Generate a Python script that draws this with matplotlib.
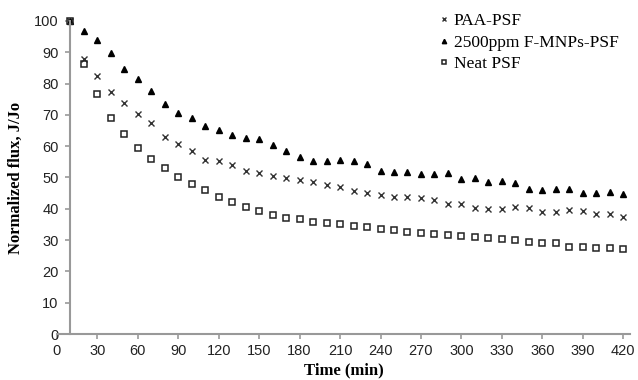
import numpy as np
import matplotlib
matplotlib.use("Agg")
import matplotlib.pyplot as plt

# Time points (min)
time = list(range(10, 430, 10))

# Normalized flux values
paa_psf = [100, 87.8, 82.5, 77.4, 73.9, 70.2, 67.3, 63.0, 60.7, 58.6,
           55.6, 55.3, 54.0, 52.1, 51.3, 50.6, 49.9, 49.2, 48.7, 47.6,
           46.9, 45.7, 44.9, 44.4, 43.7, 43.7, 43.3, 42.8, 41.5, 41.5,
           40.2, 40.0, 40.0, 40.7, 40.2, 39.1, 38.9, 39.6, 39.4, 38.3,
           38.3, 37.5]
fmnps_psf = [100, 96.9, 93.9, 89.9, 84.7, 81.5, 77.6, 73.4, 70.5, 69.1,
             66.5, 65.0, 63.6, 62.5, 62.2, 60.4, 58.6, 56.6, 55.3, 55.3,
             55.6, 55.1, 54.2, 52.2, 51.9, 51.9, 51.1, 51.0, 51.3, 49.4,
             49.7, 48.4, 49.0, 48.1, 46.3, 46.0, 46.4, 46.4, 45.1, 45.1,
             45.4, 44.7]
neat_psf = [100, 86.2, 76.6, 69.1, 63.9, 59.3, 55.8, 52.9, 50.1, 47.9,
            46.0, 43.9, 42.3, 40.5, 39.3, 38.0, 37.2, 36.6, 35.9, 35.4,
            35.0, 34.5, 34.1, 33.5, 33.2, 32.7, 32.2, 31.9, 31.6, 31.3,
            30.9, 30.6, 30.2, 30.0, 29.5, 29.0, 29.0, 27.9, 27.9, 27.6,
            27.4, 27.2]

x_ticks = list(range(0, 421, 30))
y_ticks = list(range(0, 101, 10))

fig = plt.figure(figsize=(6.38, 3.8), dpi=100)
ax = fig.add_axes([0.0893, 0.121, 0.898, 0.824])

ax.plot(time, paa_psf, linestyle='none', marker='x', color='#333333',
        markersize=4.5, markeredgewidth=1.0, label='PAA-PSF', clip_on=False)
ax.plot(time, fmnps_psf, linestyle='none', marker='^', color='black',
        markersize=4.5, label='2500ppm F-MNPs-PSF', clip_on=False)
ax.plot(time, neat_psf, linestyle='none', marker='s', markerfacecolor='none',
        markeredgecolor='#222222', markersize=4.3, markeredgewidth=1.1,
        label='Neat PSF', clip_on=False)

ax.set_xlim(0, 425)
ax.set_ylim(0, 100)
ax.set_xticks(x_ticks)
ax.set_yticks(y_ticks)

for side in ['top', 'right']:
    ax.spines[side].set_visible(False)
ax.spines['left'].set_position(('data', 10))
for side in ['left', 'bottom']:
    ax.spines[side].set_color('#999999')
    ax.spines[side].set_linewidth(1.5)

ax.tick_params(axis='both', direction='out', length=3.5, width=1.2,
               color='#999999', labelcolor='#222222')
ax.tick_params(axis='y', pad=5)
ax.tick_params(axis='x', pad=4)
for lab in ax.get_xticklabels() + ax.get_yticklabels():
    lab.set_family('Liberation Sans')
    lab.set_fontsize(10.5)

ax.set_xlabel('Time (min)', family='Liberation Serif', fontweight='bold',
              fontsize=12)
ax.xaxis.set_label_coords(0.5, -0.09)
ax.set_ylabel('Normalized flux, J/Jo', family='Liberation Serif',
              fontweight='bold', fontsize=12)
ax.yaxis.set_label_coords(-0.058, 0.5)

leg = ax.legend(loc='upper left', bbox_to_anchor=(0.665, 1.006),
                bbox_transform=fig.transFigure, frameon=False,
                prop={'family': 'Liberation Serif', 'size': 12.5},
                handlelength=0.5, handletextpad=0.3, labelspacing=0.3,
                markerscale=0.7)

fig.savefig('out.png', dpi=100)
